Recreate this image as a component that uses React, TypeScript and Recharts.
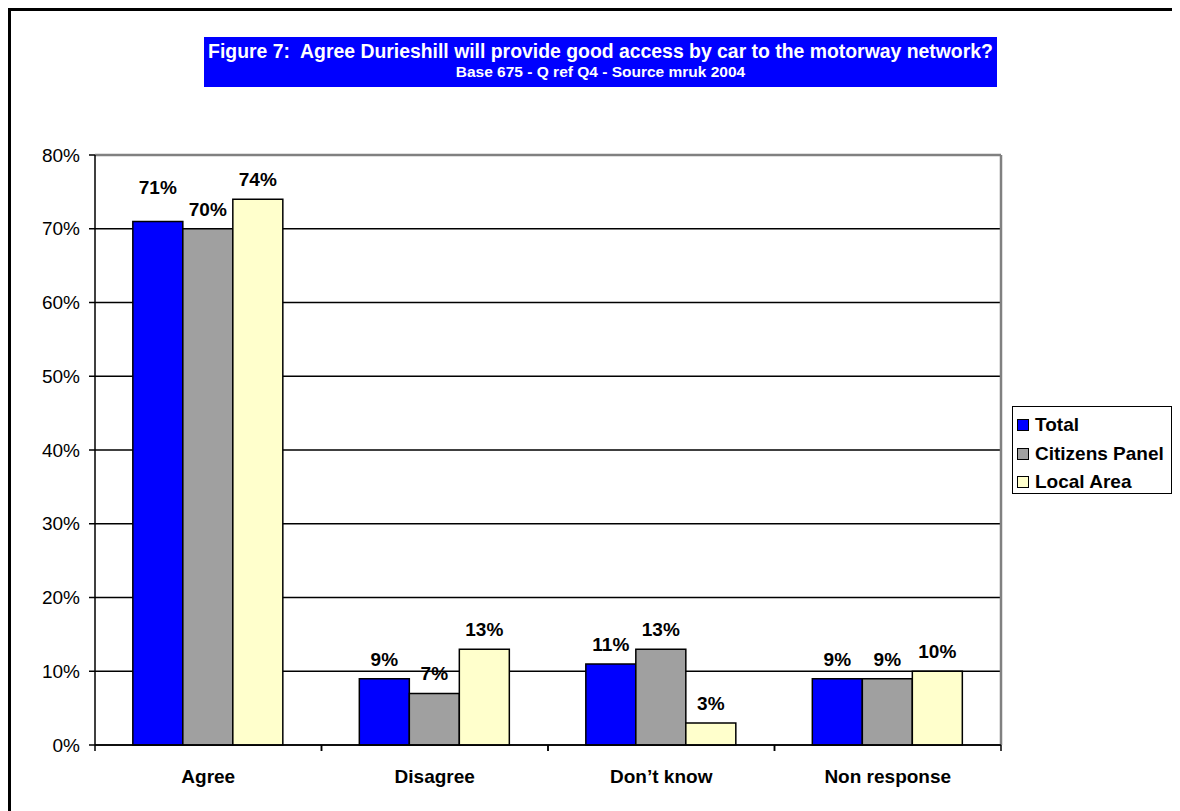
import React from "react";
import { BarChart, Bar, XAxis, YAxis, CartesianGrid, ReferenceLine, LabelList } from "recharts";

const categories = ["Agree", "Disagree", "Don\u2019t know", "Non response"];
const totalValues = [71, 9, 11, 9];
const citizensValues = [70, 7, 13, 9];
const localValues = [74, 13, 3, 10];
const yTicks = [0, 10, 20, 30, 40, 50, 60, 70, 80];
const seriesNames = ["Total", "Citizens Panel", "Local Area"];
const seriesColors = ["#0000FF", "#A0A0A0", "#FFFFCC"];
const titleLine1 = "Figure 7:  Agree Durieshill will provide good access by car to the motorway network?";
const titleLine2 = "Base 675 - Q ref Q4 - Source mruk 2004";

const data = categories.map((c, i) => ({
  name: c,
  total: totalValues[i],
  citizens: citizensValues[i],
  local: localValues[i],
}));

const FONT = "Arial, 'Liberation Sans', Helvetica, sans-serif";

const makeLabel = (seriesKey: string) => (props: any) => {
  const { x, y, width, value, index } = props;
  const lift = seriesKey === "total" && index === 0 ? 14 : 0;
  return (
    <text
      x={Number(x) + Number(width) / 2}
      y={Number(y) - 13 - lift}
      textAnchor="middle"
      fontFamily={FONT}
      fontWeight="bold"
      fontSize={19}
      fill="#000"
    >
      {value}%
    </text>
  );
};

const XTick = (props: any) => {
  const { x, y, payload } = props;
  const off = payload && payload.offset ? payload.offset : 0;
  return (
    <g>
      <line x1={x - off} x2={x - off} y1={y} y2={y + 6} stroke="#000" strokeWidth={1.5} />
      <line x1={x + off} x2={x + off} y1={y} y2={y + 6} stroke="#000" strokeWidth={1.5} />
      <text x={x} y={y + 31} dy="0.35em" textAnchor="middle" fontFamily={FONT} fontWeight="bold" fontSize={19} fill="#000">
        {payload.value}
      </text>
    </g>
  );
};

export default function App() {
  return (
    <div style={{ position: "relative", width: 1172, height: 803, background: "#fff" }}>
      <div
        style={{
          position: "absolute",
          left: 0,
          top: 0,
          width: 1172,
          height: 803,
          borderLeft: "3px solid #000",
          borderTop: "3px solid #000",
          boxSizing: "border-box",
        }}
      />
      <div
        style={{
          position: "absolute",
          left: 196,
          top: 29,
          width: 793,
          height: 50,
          background: "#0000FF",
          color: "#fff",
          fontFamily: FONT,
          fontWeight: "bold",
          textAlign: "center",
        }}
      >
        <div style={{ position: "absolute", left: 0, right: 0, top: 3, fontSize: 19.4, lineHeight: "22px", whiteSpace: "pre" }}>
          {titleLine1}
        </div>
        <div style={{ position: "absolute", left: 0, right: 0, top: 26, fontSize: 15.5, lineHeight: "18px", whiteSpace: "pre" }}>
          {titleLine2}
        </div>
      </div>
      <div style={{ position: "absolute", left: 0, top: 0 }}>
        <BarChart
          width={1172}
          height={803}
          data={data}
          margin={{ top: 147, right: 179, left: 17, bottom: 16 }}
          barCategoryGap="16.7%"
          barGap={0}
        >
          <CartesianGrid horizontal={true} vertical={false} stroke="#000" strokeWidth={1.3} />
          <CartesianGrid
            horizontal={false}
            vertical={true}
            stroke="#808080"
            strokeWidth={2.5}
            verticalCoordinatesGenerator={(p: any) => [p.offset.left + p.offset.width]}
          />
          <ReferenceLine y={80} stroke="#808080" strokeWidth={2.5} />
          <XAxis
            dataKey="name"
            height={50}
            axisLine={{ stroke: "#000", strokeWidth: 1.5 }}
            tickLine={false}
            tickSize={0}
            tickMargin={0}
            tick={<XTick />}
            interval={0}
          />
          <YAxis
            width={70}
            domain={[0, 80]}
            ticks={yTicks}
            interval={0}
            tickFormatter={(v: number) => `${v}%`}
            axisLine={{ stroke: "#000", strokeWidth: 1.5 }}
            tickLine={{ stroke: "#000", strokeWidth: 1.5 }}
            tickSize={6}
            tickMargin={9}
            tick={{ fill: "#000", fontSize: 19, fontFamily: FONT }}
          />
          <Bar dataKey="total" name={seriesNames[0]} fill={seriesColors[0]} stroke="#000" strokeWidth={1.5} isAnimationActive={false}>
            <LabelList dataKey="total" content={makeLabel("total")} />
          </Bar>
          <Bar dataKey="citizens" name={seriesNames[1]} fill={seriesColors[1]} stroke="#000" strokeWidth={1.5} isAnimationActive={false}>
            <LabelList dataKey="citizens" content={makeLabel("citizens")} />
          </Bar>
          <Bar dataKey="local" name={seriesNames[2]} fill={seriesColors[2]} stroke="#000" strokeWidth={1.5} isAnimationActive={false}>
            <LabelList dataKey="local" content={makeLabel("local")} />
          </Bar>
        </BarChart>
      </div>
      <div
        style={{
          position: "absolute",
          left: 1004,
          top: 398,
          width: 160,
          height: 88,
          border: "1.5px solid #000",
          boxSizing: "border-box",
          background: "#fff",
          fontFamily: FONT,
          fontWeight: "bold",
          fontSize: 19,
        }}
      >
        {seriesNames.map((n, i) => (
          <div
            key={n}
            style={{ position: "absolute", left: 4, top: 18 + i * 28.5 - 11, height: 22, display: "flex", alignItems: "center", whiteSpace: "nowrap" }}
          >
            <span
              style={{
                display: "inline-block",
                width: 10,
                height: 10,
                background: seriesColors[i],
                border: "1.5px solid #000",
                marginRight: 6,
              }}
            />
            <span>{n}</span>
          </div>
        ))}
      </div>
    </div>
  );
}
